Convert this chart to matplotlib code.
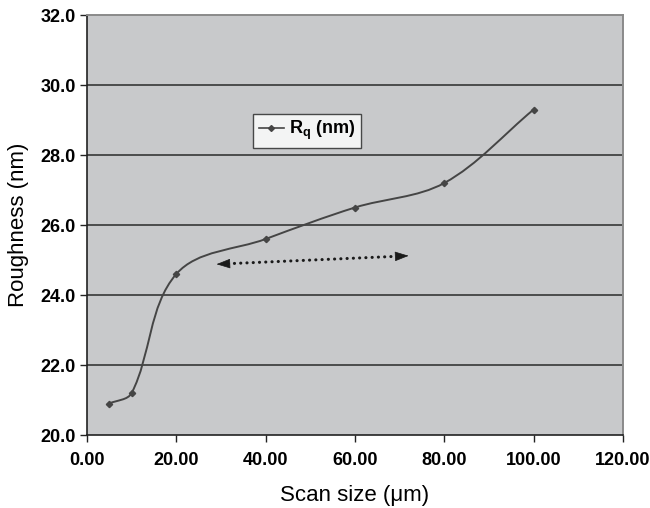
import matplotlib
matplotlib.use("Agg")
import matplotlib.pyplot as plt
from matplotlib.path import Path
from matplotlib.patches import PathPatch
from matplotlib.lines import Line2D
import numpy as np

scan_size = [5, 10, 20, 40, 60, 80, 100]
roughness = [20.9, 21.2, 24.6, 25.6, 26.5, 27.2, 29.3]
arrow_start = (29.0, 24.88)
arrow_end = (72.0, 25.12)
xticks = [0, 20, 40, 60, 80, 100, 120]
yticks = [20, 22, 24, 26, 28, 30, 32]

plt.rcParams['font.family'] = ['Liberation Sans', 'DejaVu Sans']
plt.rcParams['mathtext.fontset'] = 'custom'
plt.rcParams['mathtext.rm'] = 'Liberation Sans'
plt.rcParams['mathtext.bf'] = 'Liberation Sans:bold'
plt.rcParams['mathtext.it'] = 'Liberation Sans:italic'

W, H = 650, 508
fig = plt.figure(figsize=(W/100, H/100), dpi=100)
ax = fig.add_axes([87/W, 73/H, 536/W, 420/H])
ax.set_facecolor('#c8c9cb')
ax.set_xlim(0, 120)
ax.set_ylim(20, 32)

for yv in yticks[1:-1]:
    ax.axhline(yv, color='#2a2a2a', lw=1.1, zorder=1)

# smoothed line via Bezier path, tangents computed in screen-proportional space
sx, sy = 536/120, 420/12
x = np.array(scan_size, float) * sx
y = np.array(roughness, float) * sy
P = np.column_stack([x, y])
n = len(P)
tang = []
for i in range(n):
    a = P[max(i-1, 0)]; b = P[min(i+1, n-1)]
    d = b - a
    tang.append(d / np.linalg.norm(d))
verts = [tuple(P[0])]
codes = [Path.MOVETO]
for i in range(n - 1):
    L = np.linalg.norm(P[i+1] - P[i]) / 3.0
    c1 = P[i] + tang[i] * L
    c2 = P[i+1] - tang[i+1] * L
    verts += [tuple(c1), tuple(c2), tuple(P[i+1])]
    codes += [Path.CURVE4]*3
verts = [(vx/sx, vy/sy) for vx, vy in verts]
patch = PathPatch(Path(verts, codes), fill=False, edgecolor='#454545', lw=1.4, zorder=3)
ax.add_patch(patch)
ax.plot(scan_size, roughness, ls='none', marker='D', ms=3.2, color='#454545', zorder=4)

# dotted double arrow: dotted shaft + solid heads
a0 = np.array(arrow_start); a1 = np.array(arrow_end)
dvec = (a1 - a0) / np.linalg.norm(a1 - a0)
hl = 2.6
ax.plot([a0[0] + dvec[0]*hl, a1[0] - dvec[0]*hl], [a0[1] + dvec[1]*hl, a1[1] - dvec[1]*hl],
        color='#1a1a1a', lw=2.2, linestyle=(0, (0.05, 2.0)), dash_capstyle='round', zorder=5)
for tip, back in [(a1, a1 - dvec*hl), (a0, a0 + dvec*hl)]:
    ax.annotate('', xy=tuple(tip), xytext=tuple(back),
                arrowprops=dict(arrowstyle='-|>,head_length=0.4,head_width=0.14', lw=0.5,
                                color='#1a1a1a', mutation_scale=22, shrinkA=0, shrinkB=0),
                zorder=5)

ax.set_xticks(xticks)
ax.set_xticklabels([f'{v:.2f}' for v in xticks], fontweight='bold', fontsize=13)
ax.set_yticks(yticks)
ax.set_yticklabels([f'{v:.1f}' for v in yticks], fontweight='bold', fontsize=13)
ax.tick_params(direction='out', length=5, width=1, color='#222222')
ax.tick_params(axis='x', pad=7)
ax.tick_params(axis='y', pad=3)

for s in ['left', 'bottom']:
    ax.spines[s].set_color('#222222'); ax.spines[s].set_linewidth(1.2)
for s in ['top', 'right']:
    ax.spines[s].set_color('#8a8a8a'); ax.spines[s].set_linewidth(1.4)

ax.set_xlabel('Scan size (\u03bcm)', fontsize=16, labelpad=12)
ax.set_ylabel('Roughness (nm)', fontsize=16, labelpad=8)

h = Line2D([], [], color='#454545', lw=1.2, marker='D', ms=3)
leg = ax.legend([h], [r'$\mathbf{R_q}$ (nm)'], loc='upper left', bbox_to_anchor=(0.31, 0.765),
                frameon=True, fancybox=False, handlelength=1.4, handletextpad=0.3,
                borderpad=0.3, borderaxespad=0, prop={'weight': 'bold', 'size': 13})
leg.get_frame().set_edgecolor('#222222')
leg.get_frame().set_facecolor('white')
leg.get_frame().set_linewidth(1.0)

fig.savefig('out.png', dpi=100)
